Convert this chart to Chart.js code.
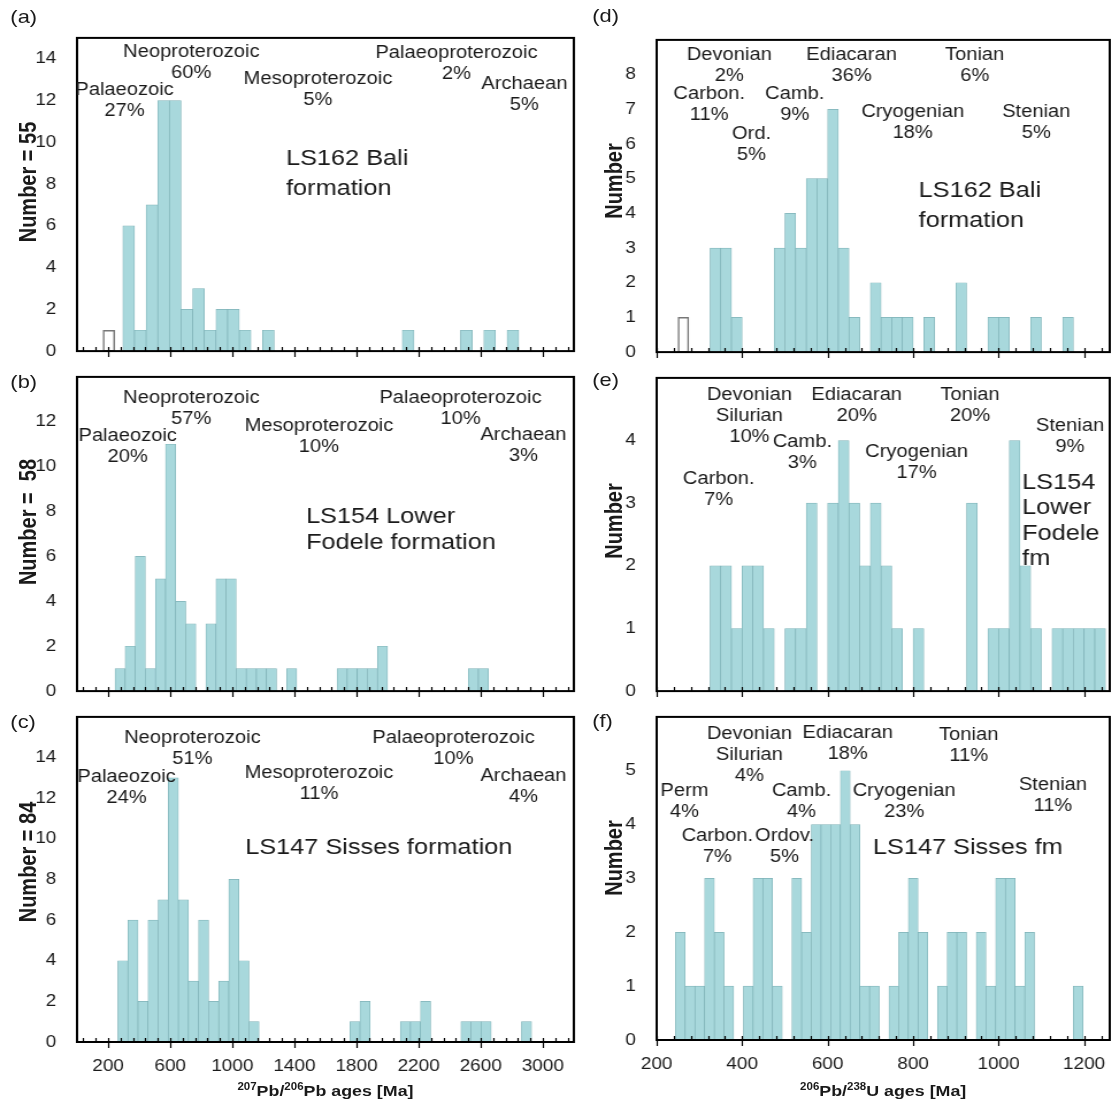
<!DOCTYPE html>
<html>
<head>
<meta charset="utf-8">
<script src="https://cdn.jsdelivr.net/npm/chart.js@4.4.1/dist/chart.umd.min.js"></script>
<style>
  body { margin: 0; background: #fff; }
  /* the original figure is stretched sideways, so lay it out narrow and scale it */
  #fig { position: absolute; left: 0; top: 0; width: 970px; height: 1099px;
         transform: scaleX(1.15); transform-origin: 0 0;
         font-family: "Liberation Sans", Arial, sans-serif; color: #1a1a1a; }
  .panel { position: absolute; }
  .tag { position: absolute; font-size: 19px; }
  .ytitle { position: absolute; font-weight: bold; font-size: 20px; white-space: nowrap;
            transform: translate(-50%, -50%) rotate(-90deg); }
  .xtitle { position: absolute; font-weight: bold; font-size: 15.5px; white-space: nowrap;
            transform: translateX(-50%); line-height: 18px; }
  .xtitle sup { font-size: 10px; }
</style>
</head>
<body>
<div id="fig">
  <div class="tag" style="left:9px;top:6px">(a)</div>
  <div class="tag" style="left:9px;top:371px">(b)</div>
  <div class="tag" style="left:9px;top:711px">(c)</div>
  <div class="tag" style="left:515px;top:5px">(d)</div>
  <div class="tag" style="left:515px;top:369px">(e)</div>
  <div class="tag" style="left:515px;top:710px">(f)</div>

  <div class="ytitle" style="left:25px;top:182px">Number = 55</div>
  <div class="ytitle" style="left:25px;top:522px">Number =&nbsp; 58</div>
  <div class="ytitle" style="left:25px;top:862px">Number = 84</div>
  <div class="ytitle" style="left:534px;top:181px">Number</div>
  <div class="ytitle" style="left:534px;top:521px">Number</div>
  <div class="ytitle" style="left:534px;top:858px">Number</div>

  <div class="xtitle" style="left:283px;top:1078px"><sup>207</sup>Pb/<sup>206</sup>Pb ages [Ma]</div>
  <div class="xtitle" style="left:768px;top:1078px"><sup>206</sup>Pb/<sup>238</sup>U ages [Ma]</div>
</div>

<script>
// ---- tick labels ----
const pbTicks = [200, 600, 1000, 1400, 1800, 2200, 2600, 3000];
const uTicks = [200, 400, 600, 800, 1000, 1200];

// ---- (a) LS162 Bali, 207Pb/206Pb, bin centres in Ma ----
const aAges = [332.5, 407.5, 482.5, 557.5, 632.5, 707.5, 782.5, 857.5, 932.5, 1007.5, 1082.5, 1232.5, 2132.5, 2507.5, 2657.5, 2807.5];
const aCounts = [6, 1, 7, 12, 12, 2, 3, 1, 2, 2, 1, 1, 1, 1, 1, 1];
const aOpenAges = [205];
const aOpenCounts = [1];

// ---- (b) LS154 Lower Fodele ----
const bAges = [277.5, 342.5, 407.5, 472.5, 537.5, 602.5, 667.5, 732.5, 862.5, 927.5, 992.5, 1057.5, 1122.5, 1187.5, 1252.5, 1382.5, 1707.5, 1772.5, 1837.5, 1902.5, 1967.5, 2552.5, 2617.5];
const bCounts = [1, 2, 6, 1, 5, 11, 4, 3, 3, 5, 5, 1, 1, 1, 1, 1, 1, 1, 1, 1, 2, 1, 1];

// ---- (c) LS147 Sisses ----
const cAges = [295, 360, 425, 490, 555, 620, 685, 750, 815, 880, 945, 1010, 1075, 1140, 1790, 1855, 2115, 2180, 2245, 2505, 2570, 2635, 2895];
const cCounts = [4, 6, 2, 6, 7, 13, 7, 3, 6, 2, 3, 8, 4, 1, 1, 2, 1, 1, 2, 1, 1, 1, 1];

// ---- (d) LS162 Bali, 206Pb/238U ----
const dAges = [337.5, 362.5, 387.5, 487.5, 512.5, 537.5, 562.5, 587.5, 612.5, 637.5, 662.5, 712.5, 737.5, 762.5, 787.5, 837.5, 912.5, 987.5, 1012.5, 1087.5, 1162.5];
const dCounts = [3, 3, 1, 3, 4, 3, 5, 5, 7, 3, 1, 2, 1, 1, 1, 1, 2, 1, 1, 1, 1];
const dOpenAges = [262.5];
const dOpenCounts = [1];

// ---- (e) LS154 Lower Fodele ----
const eAges = [337.5, 362.5, 387.5, 412.5, 437.5, 462.5, 512.5, 537.5, 562.5, 612.5, 637.5, 662.5, 687.5, 712.5, 737.5, 762.5, 812.5, 937.5, 987.5, 1012.5, 1037.5, 1062.5, 1087.5, 1137.5, 1162.5, 1187.5, 1212.5, 1237.5];
const eCounts = [2, 2, 1, 2, 2, 1, 1, 1, 3, 3, 4, 3, 2, 3, 2, 1, 1, 3, 1, 1, 4, 2, 1, 1, 1, 1, 1, 1];

// ---- (f) LS147 Sisses ----
const fAges = [255.4, 278.1, 300.8, 323.5, 346.2, 368.9, 414.3, 437.0, 459.7, 482.4, 527.8, 550.5, 573.2, 595.9, 618.6, 641.3, 664.0, 686.7, 709.4, 754.8, 777.5, 800.2, 822.9, 868.3, 891.0, 913.7, 959.1, 981.8, 1004.5, 1027.2, 1049.9, 1072.6, 1186.1];
const fCounts = [2, 1, 1, 3, 2, 1, 1, 3, 3, 1, 3, 2, 4, 4, 4, 5, 4, 1, 1, 1, 2, 3, 2, 1, 2, 2, 2, 1, 3, 3, 1, 2, 1];

// ---- period labels (placed in age / count units) ----
const aNotes = [
  { t: ['Neoproterozoic', '60%'], x: 736, y: 14.3 },
  { t: ['Palaeozoic', '27%'], x: 306, y: 12.5 },
  { t: ['Mesoproterozoic', '5%'], x: 1552, y: 13.0 },
  { t: ['Palaeoproterozoic', '2%'], x: 2444, y: 14.25 },
  { t: ['Archaean', '5%'], x: 2881, y: 12.8 },
  { t: ['LS162 Bali', 'formation'], x: 1346, y: 9.2, big: true, lh: 30 }
];
const bNotes = [
  { t: ['Neoproterozoic', '57%'], x: 736, y: 13.05 },
  { t: ['Palaeozoic', '20%'], x: 326, y: 11.36 },
  { t: ['Mesoproterozoic', '10%'], x: 1558, y: 11.8 },
  { t: ['Palaeoproterozoic', '10%'], x: 2470, y: 13.05 },
  { t: ['Archaean', '3%'], x: 2875, y: 11.4 },
  { t: ['LS154 Lower', 'Fodele formation'], x: 1475, y: 7.78, big: true, lh: 26 }
];
const cNotes = [
  { t: ['Neoproterozoic', '51%'], x: 743, y: 14.97 },
  { t: ['Palaeozoic', '24%'], x: 319, y: 13.05 },
  { t: ['Mesoproterozoic', '11%'], x: 1558, y: 13.23 },
  { t: ['Palaeoproterozoic', '10%'], x: 2425, y: 14.97 },
  { t: ['Archaean', '4%'], x: 2875, y: 13.09 },
  { t: ['LS147 Sisses formation'], x: 1083, y: 9.57, big: true, lh: 26 }
];
const dNotes = [
  { t: ['Devonian', '2%'], x: 370, y: 8.55 },
  { t: ['Ediacaran', '36%'], x: 656, y: 8.55 },
  { t: ['Tonian', '6%'], x: 944, y: 8.55 },
  { t: ['Carbon.', '11%'], x: 323, y: 7.43 },
  { t: ['Camb.', '9%'], x: 523, y: 7.43 },
  { t: ['Ord.', '5%'], x: 422, y: 6.29 },
  { t: ['Cryogenian', '18%'], x: 799, y: 6.93 },
  { t: ['Stenian', '5%'], x: 1088, y: 6.93 },
  { t: ['LS162 Bali', 'formation'], x: 813, y: 4.64, big: true, lh: 30 }
];
const eNotes = [
  { t: ['Devonian', 'Silurian', '10%'], x: 417, y: 4.72 },
  { t: ['Ediacaran', '20%'], x: 668, y: 4.72 },
  { t: ['Tonian', '20%'], x: 933, y: 4.72 },
  { t: ['Camb.', '3%'], x: 541, y: 3.97 },
  { t: ['Cryogenian', '17%'], x: 808, y: 3.82 },
  { t: ['Carbon.', '7%'], x: 345, y: 3.38 },
  { t: ['Stenian', '9%'], x: 1167, y: 4.23 },
  { t: ['LS154', 'Lower', 'Fodele', 'fm'], x: 1055, y: 3.33, big: true, lh: 25.5 }
];
const fNotes = [
  { t: ['Devonian', 'Silurian', '4%'], x: 417, y: 5.68 },
  { t: ['Ediacaran', '18%'], x: 647, y: 5.7 },
  { t: ['Tonian', '11%'], x: 930, y: 5.66 },
  { t: ['Perm', '4%'], x: 265, y: 4.62 },
  { t: ['Camb.', '4%'], x: 539, y: 4.62 },
  { t: ['Cryogenian', '23%'], x: 779, y: 4.62 },
  { t: ['Stenian', '11%'], x: 1127, y: 4.73 },
  { t: ['Carbon.', '7%'], x: 342, y: 3.79 },
  { t: ['Ordov.', '5%'], x: 499, y: 3.79 },
  { t: ['LS147 Sisses fm'], x: 706, y: 3.56, big: true, lh: 26 }
];

const FILL = '#a8d8dc';
const EDGE = '#7fb2b7';
const INK = '#1a1a1a';
const FONT = '"Liberation Sans", Arial, sans-serif';

// layout in un-stretched pixels
const LEFT = { x0: 67, x1: 499, min: 0, max: 3200, ticks: pbTicks, minorStart: 40, minorStep: 80 };
const RIGHT = { x0: 571, x1: 965, min: 200, max: 1260, ticks: uTicks, minorStart: 200, minorStep: 40 };

const panels = [
  { side: LEFT, y0: 22, y1: 361, ymax: 15, step: 2, ages: aAges, counts: aCounts, openAges: aOpenAges, openCounts: aOpenCounts, notes: aNotes },
  { side: LEFT, y0: 361, y1: 701, ymax: 14, step: 2, ages: bAges, counts: bCounts, notes: bNotes },
  { side: LEFT, y0: 701, y1: 1042, ymax: 16, step: 2, ages: cAges, counts: cCounts, notes: cNotes, bottom: true },
  { side: RIGHT, y0: 24, y1: 362, ymax: 9, step: 1, ages: dAges, counts: dCounts, openAges: dOpenAges, openCounts: dOpenCounts, notes: dNotes },
  { side: RIGHT, y0: 362, y1: 701, ymax: 5, step: 1, ages: eAges, counts: eCounts, notes: eNotes },
  { side: RIGHT, y0: 701, y1: 1040, ymax: 6, step: 1, ages: fAges, counts: fCounts, notes: fNotes, bottom: true }
];

// frame, tick marks and the period labels
const decor = {
  id: 'decor',
  afterDraw(chart, args, opts) {
    const ctx = chart.ctx;
    const ca = chart.chartArea;
    const xs = chart.scales.x, ys = chart.scales.y;
    const side = opts.side;
    ctx.save();
    ctx.strokeStyle = '#000';
    ctx.lineWidth = 1.2;
    ctx.beginPath();
    for (let v = side.minorStart; v < side.max; v += side.minorStep) {
      const px = Math.round(xs.getPixelForValue(v)) + 0.5;
      const major = side.ticks.includes(v);
      ctx.moveTo(px, ca.bottom - 4);
      ctx.lineTo(px, ca.bottom + (major ? 6 : 0));
    }
    ctx.stroke();
    ctx.lineWidth = 2;
    ctx.strokeRect(ca.left, ca.top, ca.right - ca.left, ca.bottom - ca.top);

    ctx.fillStyle = INK;
    ctx.textBaseline = 'middle';
    opts.notes.forEach(n => {
      const px = xs.getPixelForValue(n.x);
      const py = ys.getPixelForValue(n.y);
      ctx.font = (n.big ? '22px ' : '17.5px ') + FONT;
      ctx.textAlign = n.big ? 'left' : 'center';
      const lh = n.lh || 21;
      n.t.forEach((line, i) => ctx.fillText(line, px, py + i * lh));
    });
    ctx.restore();
  }
};

const fig = document.getElementById('fig');

panels.forEach(p => {
  const L = 44, T = 4, R = 6, B = p.bottom ? 32 : 10;
  const side = p.side;
  const w = side.x1 - side.x0 + L + R;
  const h = p.y1 - p.y0 + T + B;
  const div = document.createElement('div');
  div.className = 'panel';
  div.style.left = (side.x0 - L) + 'px';
  div.style.top = (p.y0 - T) + 'px';
  const cv = document.createElement('canvas');
  cv.width = w;
  cv.height = h;
  div.appendChild(cv);
  fig.appendChild(div);

  const datasets = [{
    data: p.ages.map((x, i) => ({ x: x, y: p.counts[i] })),
    backgroundColor: FILL,
    borderColor: EDGE,
    borderWidth: 0.7
  }];
  if (p.openAges) {
    datasets.push({
      data: p.openAges.map((x, i) => ({ x: x, y: p.openCounts[i] })),
      backgroundColor: '#fff',
      borderColor: '#777',
      borderWidth: 1.5,
      borderSkipped: false
    });
  }

  new Chart(cv, {
    type: 'bar',
    data: { datasets: datasets },
    options: {
      responsive: false,
      animation: false,
      events: [],
      layout: { padding: { top: T, right: R, left: 0, bottom: 0 } },
      datasets: { bar: { barPercentage: 1, categoryPercentage: 1, grouped: false } },
      plugins: {
        legend: { display: false },
        tooltip: { enabled: false },
        decor: { side: side, notes: p.notes }
      },
      scales: {
        x: {
          type: 'linear',
          offset: false,
          min: side.min,
          max: side.max,
          afterBuildTicks: axis => { axis.ticks = side.ticks.map(v => ({ value: v })); },
          afterFit: axis => { axis.height = B; },
          grid: { display: false },
          border: { display: false },
          ticks: {
            display: !!p.bottom,
            autoSkip: false,
            maxRotation: 0,
            padding: 7,
            color: INK,
            font: { family: FONT, size: 16.5 },
            callback: v => String(v)
          }
        },
        y: {
          min: 0,
          max: p.ymax,
          afterFit: axis => { axis.width = L; },
          grid: { display: false },
          border: { display: false },
          ticks: {
            stepSize: p.step,
            padding: 10,
            color: INK,
            font: { family: FONT, size: 16.5 },
            callback: v => (v === p.ymax ? '' : String(v))
          }
        }
      }
    },
    plugins: [decor]
  });
});
</script>
</body>
</html>
